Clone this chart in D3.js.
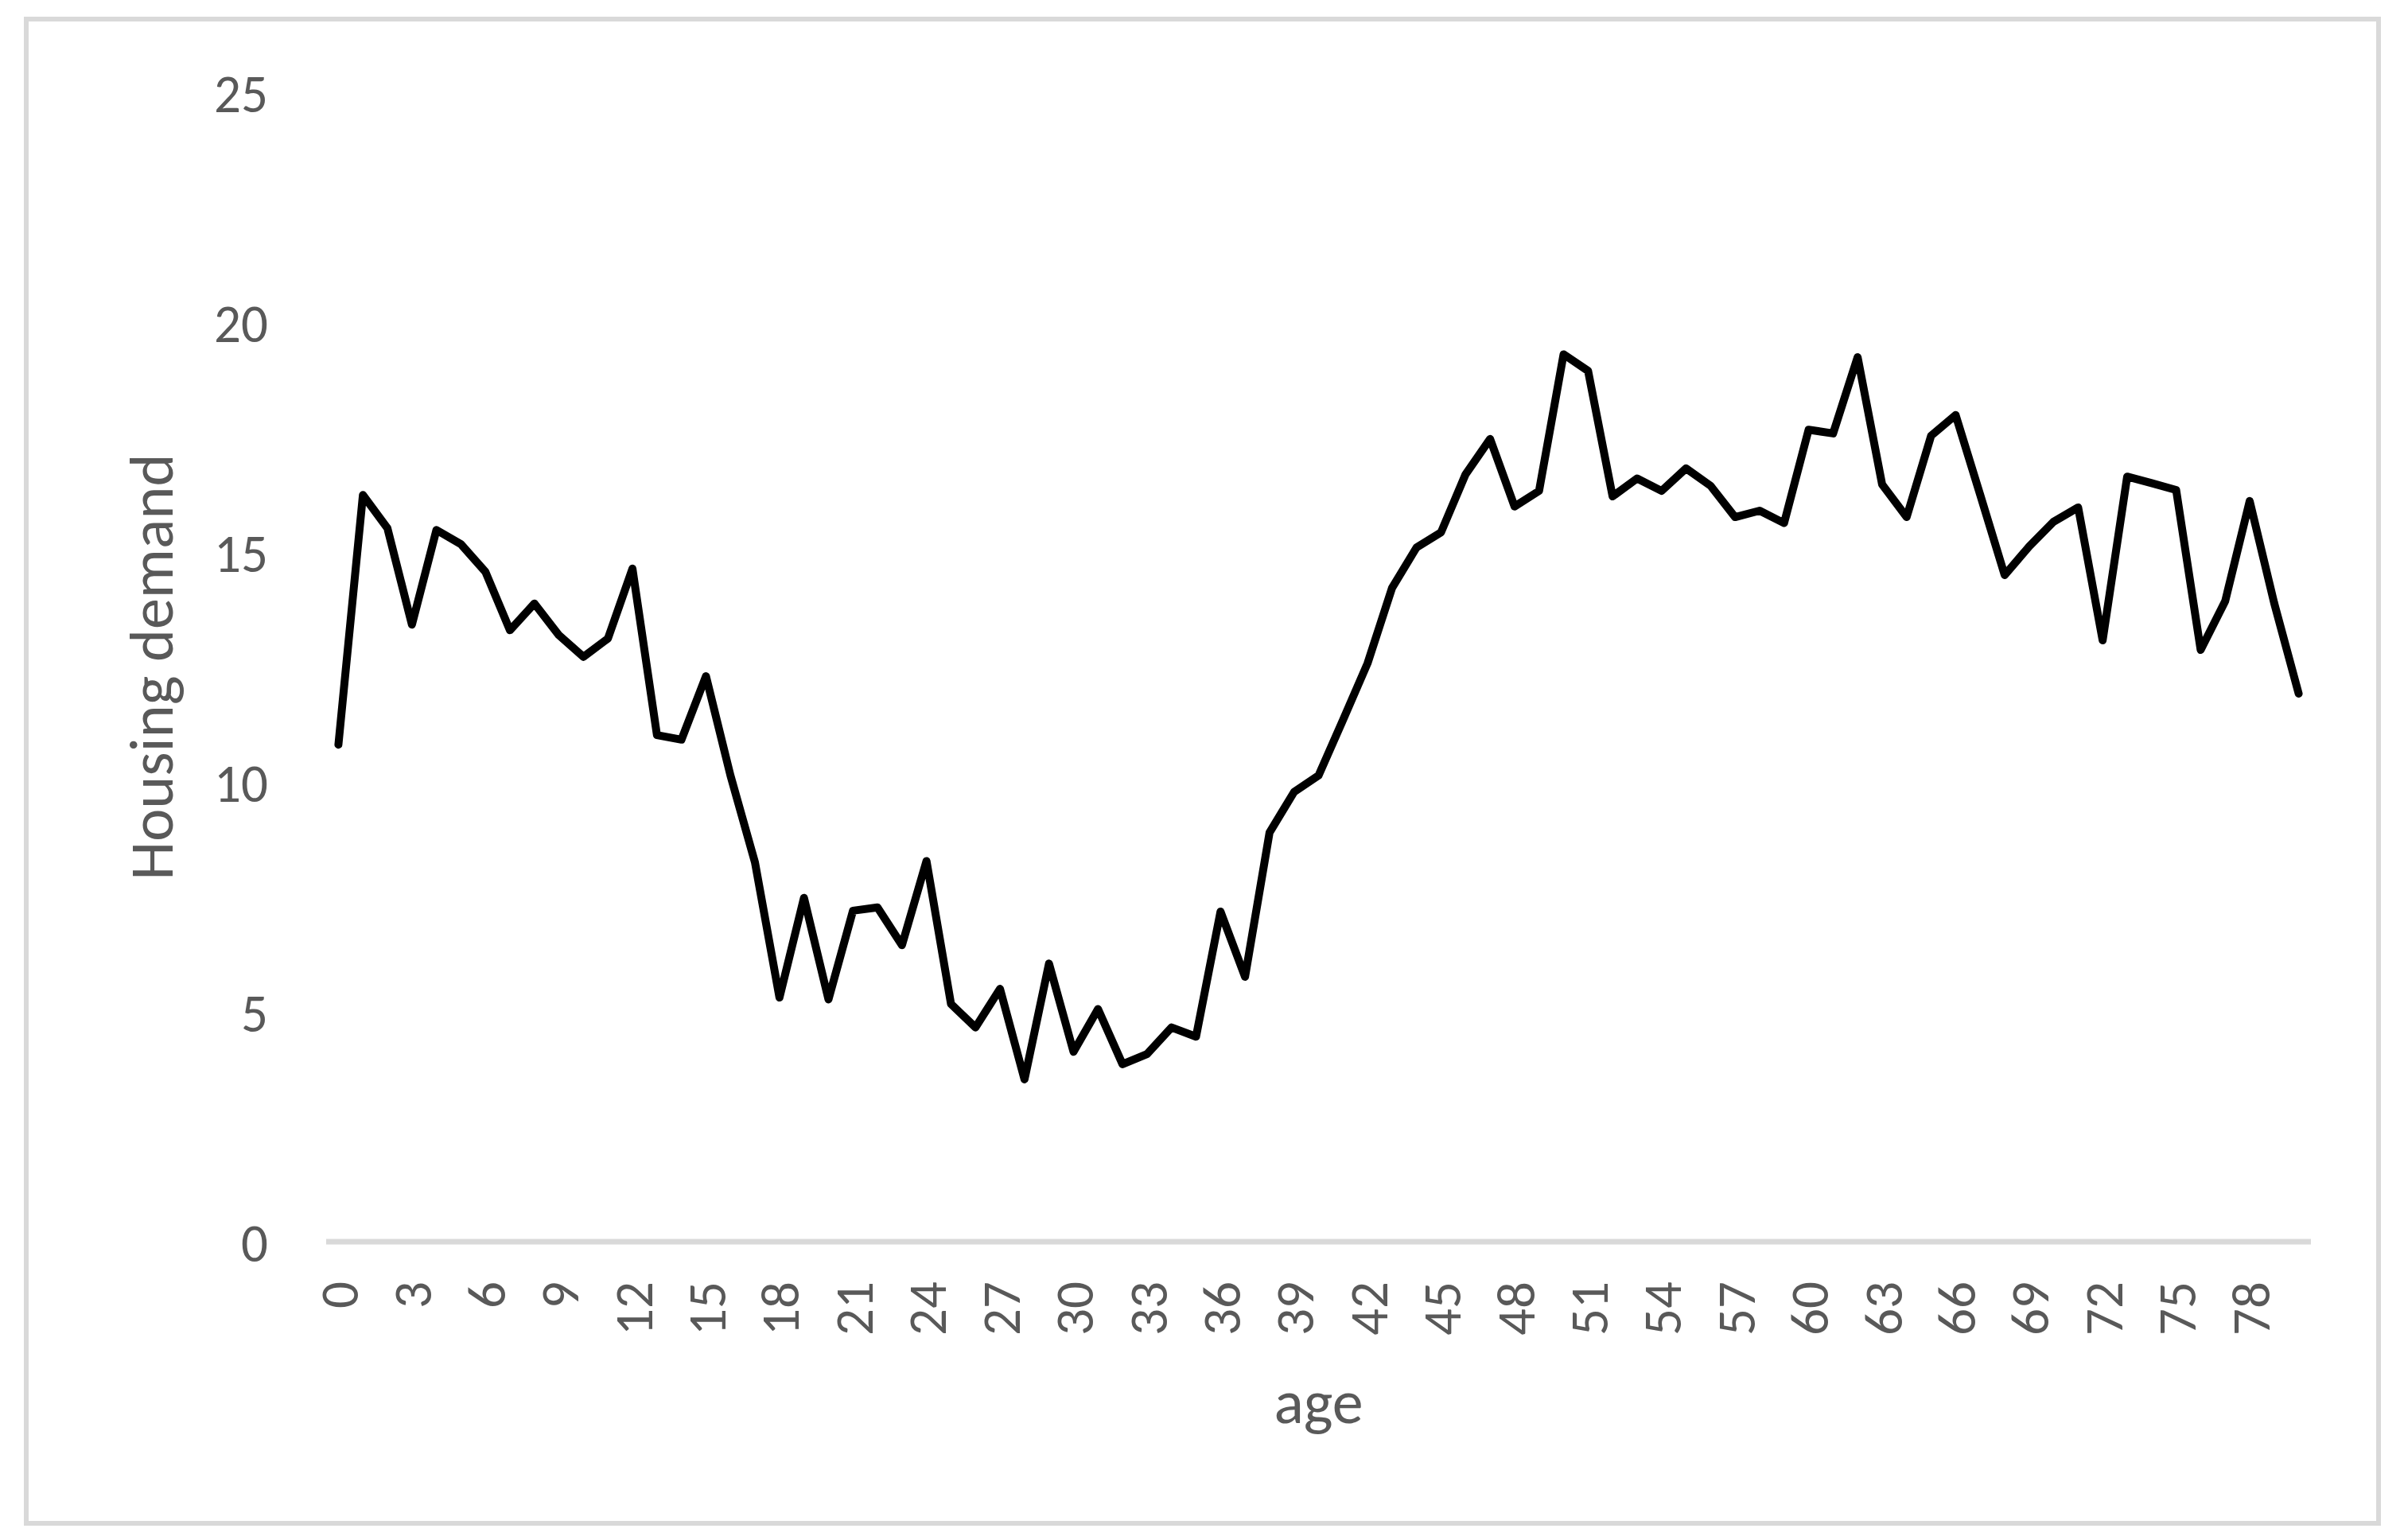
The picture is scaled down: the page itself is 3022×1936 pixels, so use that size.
<!DOCTYPE html>
<html>
<head>
<meta charset="utf-8">
<script src="https://cdn.jsdelivr.net/npm/d3@7"></script>
<style>
  html, body { margin: 0; padding: 0; background: #fff; }
  text { font-family: Carlito, Calibri, Lato, sans-serif; fill: #595959; }
</style>
</head>
<body>
<div class="chart"></div>
<script>
// data
const ages = [0,1,2,3,4,5,6,7,8,9,10,11,12,13,14,15,16,17,18,19,20,
  21,22,23,24,25,26,27,28,29,30,31,32,33,34,35,36,37,38,39,40,
  41,42,43,44,45,46,47,48,49,50,51,52,53,54,55,56,57,58,59,60,
  61,62,63,64,65,66,67,68,69,70,71,72,73,74,75,76,77,78,79,80];
const demand = [10.81,16.24,15.52,13.42,15.48,15.17,14.57,13.3,13.88,13.19,12.72,
  13.12,14.64,11.02,10.92,12.3,10.14,8.25,5.31,7.48,5.27,
  7.2,7.27,6.45,8.28,5.17,4.66,5.5,3.53,6.05,4.13,
  5.06,3.86,4.08,4.66,4.46,7.18,5.76,8.9,9.78,10.14,
  11.35,12.58,14.22,15.1,15.43,16.69,17.46,15.99,16.33,19.3,
  18.94,16.21,16.6,16.33,16.82,16.44,15.76,15.9,15.63,17.66,
  17.58,19.24,16.47,15.76,17.53,17.98,16.25,14.5,15.12,15.66,
  15.97,13.08,16.64,16.5,16.35,12.87,13.93,16.11,13.89,11.92];
const xTicks = [0,3,6,9,12,15,18,21,24,27,30,33,36,39,42,45,48,51,54,57,60,63,66,69,72,75,78];
const yTicks = [0,5,10,15,20,25];

//set up SVG
const SVGWIDTH = 3022;
const SVGHEIGHT = 1936;

let svg = d3.select('.chart')
  .append('svg')
  .attr('width', SVGWIDTH)
  .attr('height', SVGHEIGHT);

// chart area border
svg.append('rect')
  .attr('x', 33)
  .attr('y', 24)
  .attr('width', 2957)
  .attr('height', 1891)
  .attr('fill', '#fff')
  .attr('stroke', '#D9D9D9')
  .attr('stroke-width', 6);

// plot area
const PLOT = { left: 410, right: 2905, top: 116, bottom: 1561 };

const xScale = d3.scalePoint()
  .domain(ages)
  .range([PLOT.left, PLOT.right])
  .padding(0.5);

const yScale = d3.scaleLinear()
  .domain([0, 25])
  .range([PLOT.bottom, PLOT.top]);

// y axis labels (no line)
const yAxis = svg.append('g')
  .attr('transform', `translate(337, 0)`)
  .call(d3.axisLeft(yScale).tickValues(yTicks).tickSize(0).tickPadding(0));
yAxis.select('.domain').remove();
yAxis.selectAll('text')
  .attr('font-size', 67)
  .attr('fill', '#595959')
  .attr('dy', '0.36em');

// x axis
const xAxis = svg.append('g')
  .attr('transform', `translate(0, ${PLOT.bottom})`)
  .call(d3.axisBottom(xScale).tickValues(xTicks).tickSize(0));
xAxis.select('.domain')
  .attr('stroke', '#D9D9D9')
  .attr('stroke-width', 7)
  .attr('d', `M${PLOT.left},0H${PLOT.right}`);
xAxis.selectAll('text')
  .attr('font-size', 67)
  .attr('fill', '#595959')
  .attr('text-anchor', 'end')
  .attr('transform', 'rotate(-90)')
  .attr('x', -50)
  .attr('y', 0)
  .attr('dy', '0.36em');

// line
const line = d3.line()
  .x((d, i) => xScale(ages[i]))
  .y(d => yScale(d));

svg.append('path')
  .datum(demand)
  .attr('d', line)
  .attr('fill', 'none')
  .attr('stroke', '#000')
  .attr('stroke-width', 10)
  .attr('stroke-linejoin', 'round')
  .attr('stroke-linecap', 'round');

// axis titles
svg.append('text')
  .attr('x', (PLOT.left + PLOT.right) / 2)
  .attr('y', 1789)
  .attr('text-anchor', 'middle')
  .attr('font-size', 78)
  .text('age');

svg.append('text')
  .attr('transform', `translate(217, ${(PLOT.top + PLOT.bottom) / 2}) rotate(-90)`)
  .attr('text-anchor', 'middle')
  .attr('font-size', 78)
  .text('Housing demand');
</script>
</body>
</html>
